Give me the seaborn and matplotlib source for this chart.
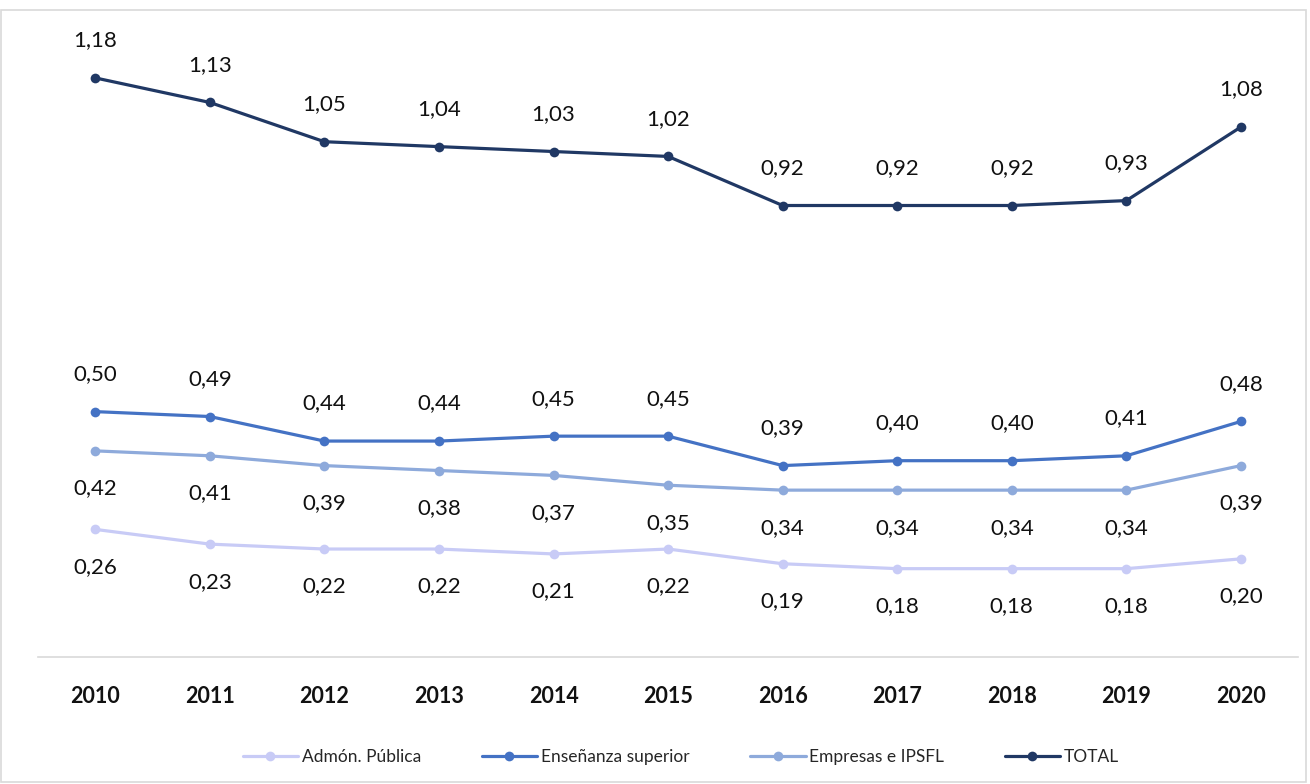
import pandas as pd
import matplotlib
matplotlib.use("Agg")
import matplotlib.pyplot as plt
import matplotlib.patches as mpatches
import seaborn as sns

# Data
years = [2010, 2011, 2012, 2013, 2014, 2015, 2016, 2017, 2018, 2019, 2020]
admon_publica = [0.26, 0.23, 0.22, 0.22, 0.21, 0.22, 0.19, 0.18, 0.18, 0.18, 0.20]
ensenanza_superior = [0.50, 0.49, 0.44, 0.44, 0.45, 0.45, 0.39, 0.40, 0.40, 0.41, 0.48]
empresas_ipsfl = [0.42, 0.41, 0.39, 0.38, 0.37, 0.35, 0.34, 0.34, 0.34, 0.34, 0.39]
total = [1.18, 1.13, 1.05, 1.04, 1.03, 1.02, 0.92, 0.92, 0.92, 0.93, 1.08]

series_names = ["Admón. Pública", "Enseñanza superior", "Empresas e IPSFL", "TOTAL"]
series_values = [admon_publica, ensenanza_superior, empresas_ipsfl, total]
colors = ["#c8cbf6", "#4472c4", "#8eaadb", "#203864"]
# label above (+) or below (-) the point
label_side = [-1, 1, -1, 1]

rows = []
for name, vals in zip(series_names, series_values):
    for y, v in zip(years, vals):
        rows.append({"Año": y, "Valor": v, "Serie": name})
df = pd.DataFrame(rows)

sns.set_theme(style="white")
plt.rcParams["font.family"] = ["Lato", "DejaVu Sans"]

fig = plt.figure(figsize=(13.1, 7.84), dpi=100)
ax = fig.add_axes([0.029, 0.162, 0.962, 0.82])

sns.lineplot(data=df, x="Año", y="Valor", hue="Serie", hue_order=series_names,
             palette=colors, marker="o", markersize=7, markeredgewidth=0,
             linewidth=2.3, ax=ax)

# data labels
for name, vals, side in zip(series_names, series_values, label_side):
    for y, v in zip(years, vals):
        ax.annotate(f"{v:.2f}".replace(".", ","), (y, v),
                    xytext=(0, 27 * side), textcoords="offset points",
                    ha="center", va="center", fontsize=16, color="#111111")

ax.set_xlim(2009.5, 2020.5)
ax.set_ylim(0, 1.31)
ax.set_xticks(years)
ax.set_xticklabels([str(y) for y in years], fontsize=15.5, fontweight="bold", color="#111111")
ax.tick_params(axis="x", pad=21, length=0)
ax.set_yticks([])
ax.set_xlabel("")
ax.set_ylabel("")
for side in ["top", "left", "right"]:
    ax.spines[side].set_visible(False)
ax.spines["bottom"].set_color("#d9d9d9")
ax.spines["bottom"].set_linewidth(1.2)

handles, labels = ax.get_legend_handles_labels()
ax.legend(handles, labels, loc="center", bbox_to_anchor=(0.51, -0.155), ncol=4,
          frameon=False, fontsize=12.5, handlelength=3.2, columnspacing=3.5,
          handletextpad=0.2)

# light border round the chart
fig.patches.append(mpatches.Rectangle((0.001, 0.002), 0.996, 0.985, transform=fig.transFigure,
                                      fill=False, edgecolor="#d9d9d9", linewidth=1.2))

fig.savefig("out.png", dpi=100)
